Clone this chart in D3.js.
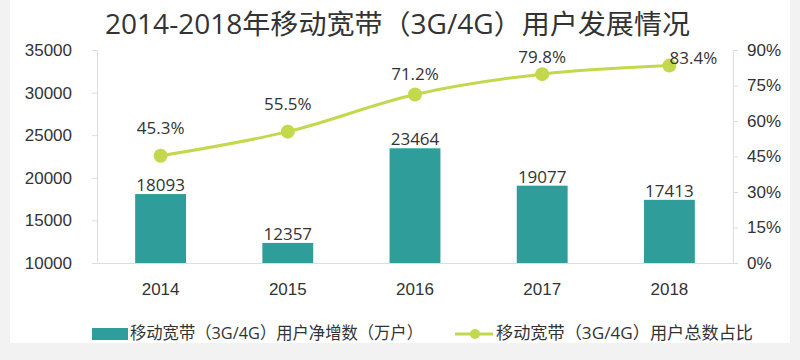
<!DOCTYPE html>
<html>
<head>
<meta charset="utf-8">
<script src="https://cdn.jsdelivr.net/npm/d3@7"></script>
<style>
  body { margin: 0; background: #f2f2f2; }
  svg { display: block; font-family: "Open Sans", "Noto Sans CJK SC", sans-serif; }
</style>
</head>
<body>
<svg id="chart"></svg>
<script>
// Data
const years = ['2014', '2015', '2016', '2017', '2018'];
const netAdds = [18093, 12357, 23464, 19077, 17413];
const shares = [45.3, 55.5, 71.2, 79.8, 83.4];
const leftTicks = [10000, 15000, 20000, 25000, 30000, 35000];
const rightTicks = [0, 15, 30, 45, 60, 75, 90];
const titleText = '2014-2018年移动宽带（3G/4G）用户发展情况';
const barName = '移动宽带（3G/4G）用户净增数（万户）';
const lineName = '移动宽带（3G/4G）用户总数占比';

// label nudges for the share labels (layout only)
const shareLabelDx = [0, 0, 0, 0, 24];
const shareLabelDy = [-22, -22, -14, -11, -2];

const width = 800, height = 360;
const margin = { top: 50, left: 97, right: 67, bottom: 97 };
const barColor = '#2f9e9a', lineColor = '#c3d84c';

const svg = d3.select('#chart').attr('width', width).attr('height', height);

// white panel
svg.append('rect')
  .attr('x', 10).attr('y', 0).attr('width', 780).attr('height', 343)
  .attr('fill', '#fff');

// Title
svg.append('text')
  .attr('x', 105).attr('y', 34)
  .attr('font-size', 27)
  .attr('fill', '#333')
  .attr('textLength', 585)
  .attr('lengthAdjust', 'spacingAndGlyphs')
  .text(titleText);

// Scales
const xScale = d3.scaleBand()
  .domain(years)
  .range([margin.left, width - margin.right])
  .paddingInner(0.6)
  .paddingOuter(0.3);

const yLeft = d3.scaleLinear()
  .domain([10000, 35000])
  .range([height - margin.bottom, margin.top]);

const yRight = d3.scaleLinear()
  .domain([0, 90])
  .range([height - margin.bottom, margin.top]);

// Axes
const axisColor = '#ddd';
const styleAxis = (g) => {
  g.select('.domain').attr('stroke', axisColor);
  g.selectAll('.tick line').attr('stroke', axisColor);
  g.selectAll('.tick text').attr('fill', '#333').attr('font-size', 17);
};

svg.append('g')
  .attr('transform', `translate(${margin.left},0)`)
  .call(d3.axisLeft(yLeft).tickValues(leftTicks).tickFormat(d3.format('d')).tickSize(5).tickSizeOuter(5).tickPadding(20))
  .call(styleAxis);

svg.append('g')
  .attr('transform', `translate(${width - margin.right},0)`)
  .call(d3.axisRight(yRight).tickValues(rightTicks).tickFormat((d) => d + '%').tickSize(5).tickSizeOuter(5).tickPadding(9))
  .call(styleAxis);

svg.append('g')
  .attr('transform', `translate(0,${height - margin.bottom})`)
  .call(d3.axisBottom(xScale).tickSize(0).tickPadding(20))
  .call(styleAxis);

// Bars
const rows = years.map((y, i) => ({ year: y, value: netAdds[i], share: shares[i], i }));

svg.append('g')
  .selectAll('rect')
  .data(rows)
  .join('rect')
    .attr('x', (d) => xScale(d.year))
    .attr('y', (d) => yLeft(d.value))
    .attr('width', xScale.bandwidth())
    .attr('height', (d) => yLeft(10000) - yLeft(d.value))
    .attr('fill', barColor);

svg.append('g')
  .selectAll('text')
  .data(rows)
  .join('text')
    .attr('x', (d) => xScale(d.year) + xScale.bandwidth() / 2)
    .attr('y', (d) => yLeft(d.value) - 3)
    .attr('text-anchor', 'middle')
    .attr('font-size', 17)
    .attr('fill', '#333')
    .text((d) => d.value);

// Line
const cx = (d) => xScale(d.year) + xScale.bandwidth() / 2;
const line = d3.line()
  .x(cx)
  .y((d) => yRight(d.share))
  .curve(d3.curveMonotoneX);

svg.append('path')
  .datum(rows)
  .attr('d', line)
  .attr('fill', 'none')
  .attr('stroke', lineColor)
  .attr('stroke-width', 3);

svg.append('g')
  .selectAll('circle')
  .data(rows)
  .join('circle')
    .attr('cx', cx)
    .attr('cy', (d) => yRight(d.share))
    .attr('r', 7)
    .attr('fill', lineColor);

svg.append('g')
  .selectAll('text')
  .data(rows)
  .join('text')
    .attr('x', (d) => cx(d) + shareLabelDx[d.i])
    .attr('y', (d) => yRight(d.share) + shareLabelDy[d.i])
    .attr('text-anchor', 'middle')
    .attr('font-size', 17)
    .attr('fill', '#333')
    .text((d) => d.share.toFixed(1) + '%');

// Legend
const legend = svg.append('g').attr('font-size', 17).attr('fill', '#333');
legend.append('rect')
  .attr('x', 92).attr('y', 328).attr('width', 36).attr('height', 12)
  .attr('fill', barColor);
legend.append('text')
  .attr('x', 130).attr('y', 339)
  .attr('fill', '#333')
  .attr('textLength', 293)
  .attr('lengthAdjust', 'spacingAndGlyphs')
  .text(barName);
legend.append('line')
  .attr('x1', 455).attr('x2', 493).attr('y1', 334).attr('y2', 334)
  .attr('stroke', lineColor).attr('stroke-width', 3);
legend.append('circle')
  .attr('cx', 475).attr('cy', 334).attr('r', 5)
  .attr('fill', lineColor);
legend.append('text')
  .attr('x', 496).attr('y', 339)
  .attr('fill', '#333')
  .attr('textLength', 257)
  .attr('lengthAdjust', 'spacingAndGlyphs')
  .text(lineName);
</script>
</body>
</html>
